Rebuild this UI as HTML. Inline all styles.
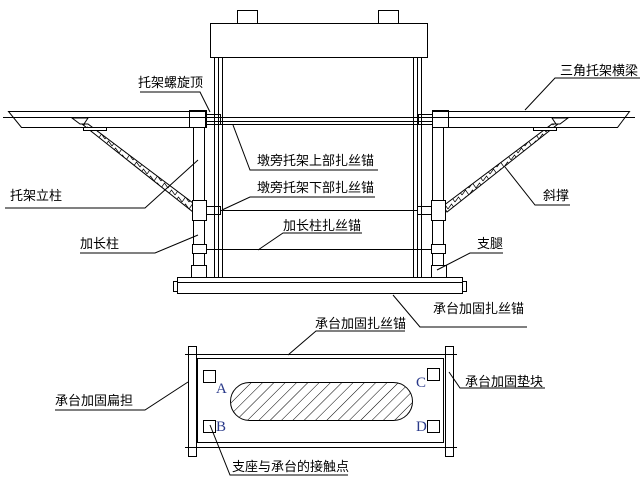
<!DOCTYPE html>
<html><head><meta charset="utf-8"><style>
html,body{margin:0;padding:0;background:#fff;}
svg{display:block;}
text{font-family:"Liberation Sans","Noto Sans CJK SC","WenQuanYi Zen Hei",sans-serif;font-size:13px;fill:#000;}
.l{font-family:"Liberation Serif",serif;font-size:15px;fill:#2a3a8a;}
</style></head><body>
<svg width="640" height="480" viewBox="0 0 640 480" xmlns="http://www.w3.org/2000/svg">
<defs>
<pattern id="h" width="8" height="8" patternUnits="userSpaceOnUse" patternTransform="rotate(45)">
<line x1="0" y1="0" x2="0" y2="8" stroke="#000" stroke-width="1"/>
</pattern>
<pattern id="z" width="7" height="7" patternUnits="userSpaceOnUse">
<path d="M0 6 L3.5 1 L7 6" fill="none" stroke="#000" stroke-width="0.7"/>
</pattern>
</defs>
<g fill="none" stroke="#000" stroke-width="1">
<rect x="237.5" y="10.5" width="20" height="13"/>
<rect x="378.5" y="10.5" width="20" height="13"/>
<rect x="210.5" y="23.5" width="217" height="34"/>
<line x1="214.5" y1="57" x2="214.5" y2="277"/>
<line x1="218.5" y1="57" x2="218.5" y2="277"/>
<line x1="222.5" y1="57" x2="222.5" y2="277"/>
<line x1="413.5" y1="57" x2="413.5" y2="277"/>
<line x1="417.5" y1="57" x2="417.5" y2="277"/>
<line x1="421.5" y1="57" x2="421.5" y2="277"/>
<line x1="3" y1="117.5" x2="635" y2="117.5"/>
<line x1="205" y1="121.5" x2="432" y2="121.5"/>
<line x1="205" y1="124.5" x2="432" y2="124.5"/>
<polygon points="8.5,111.5 205.5,111.5 205.5,127.5 21.5,127.5"/>
<rect x="189.5" y="110.5" width="17" height="17"/>
<rect x="206.5" y="114.5" width="14" height="10"/>
<polygon points="432.5,111.5 629.5,111.5 617.5,127.5 432.5,127.5"/>
<rect x="432.5" y="110.5" width="16" height="17"/>
<rect x="418.5" y="114.5" width="14" height="10"/>
<!-- braces -->
<polygon points="72,118 88,118 84,124 80,124" />
<polygon points="82,124 88,124 197,206 193,212" fill="url(#z)"/>
<polygon points="568,118 552,118 556,124 560,124"/>
<polygon points="558,124 552,124 443,206 447,212" fill="url(#z)"/>
<rect x="83.5" y="127.5" width="23" height="3" fill="#fff"/>
<rect x="533.5" y="127.5" width="23" height="3" fill="#fff"/>
<rect x="193.5" y="127.5" width="11" height="150" fill="#fff"/>
<rect x="192.5" y="200.5" width="14" height="20" fill="#fff"/>
<rect x="206.5" y="206.5" width="14" height="8"/>
<rect x="192.5" y="244.5" width="14" height="9" fill="#fff"/>
<rect x="191.5" y="265.5" width="15" height="12" fill="#fff"/>
<rect x="432.5" y="127.5" width="11" height="150" fill="#fff"/>
<rect x="431.5" y="200.5" width="14" height="20" fill="#fff"/>
<rect x="417.5" y="206.5" width="14" height="8"/>
<rect x="431.5" y="244.5" width="14" height="9" fill="#fff"/>
<rect x="431.5" y="265.5" width="15" height="12" fill="#fff"/>
<line x1="220" y1="210.5" x2="418" y2="210.5"/>
<line x1="206" y1="249.5" x2="432" y2="249.5"/>
<rect x="177.5" y="277.5" width="285" height="16"/>
<line x1="177" y1="282.5" x2="462" y2="282.5"/>
<rect x="173.5" y="281.5" width="4" height="10"/>
<rect x="462.5" y="281.5" width="4" height="10"/>
<rect x="188.5" y="346.5" width="8" height="110"/>
<rect x="445.5" y="346.5" width="8" height="110"/>
<line x1="185" y1="354.5" x2="457" y2="354.5"/>
<line x1="185" y1="447.5" x2="457" y2="447.5"/>
<rect x="197.5" y="358.5" width="246" height="84"/>
<rect x="203.5" y="370.5" width="12" height="12"/>
<rect x="203.5" y="420.5" width="12" height="12"/>
<rect x="427.5" y="368.5" width="12" height="12"/>
<rect x="427.5" y="420.5" width="12" height="12"/>
<rect x="230.5" y="382.5" width="182" height="38" rx="19" fill="url(#h)"/>
<polyline points="140,92 200,92 210,112"/>
<polyline points="5,208 145,208 198,160"/>
<polyline points="80,253 155,253 198,235"/>
<polyline points="378,170 250,170 233,125"/>
<polyline points="375,197 250,197 222,210"/>
<polyline points="362,233 283,233 258,250"/>
<polyline points="640,78 555,78 525,110"/>
<polyline points="570,205 535,205 505,167"/>
<polyline points="503,253 470,253 437,270"/>
<polyline points="527,327 420,327 393,295"/>
<polyline points="405,331 316,331 288,355"/>
<polyline points="55,410 145,410 188,382"/>
<polyline points="545,388 460,388 449,372"/>
<polyline points="348,475 230,475 210,425"/>
</g>
<text x="138" y="87">托架螺旋顶</text>
<text x="560" y="75">三角托架横梁</text>
<text x="257" y="165">墩旁托架上部扎丝锚</text>
<text x="257" y="192">墩旁托架下部扎丝锚</text>
<text x="10" y="200">托架立柱</text>
<text x="283" y="230">加长柱扎丝锚</text>
<text x="80" y="248">加长柱</text>
<text x="543" y="200">斜撑</text>
<text x="477" y="248">支腿</text>
<text x="433" y="313">承台加固扎丝锚</text>
<text x="315" y="328">承台加固扎丝锚</text>
<text x="55" y="405">承台加固扁担</text>
<text x="465" y="386">承台加固垫块</text>
<text x="232" y="471">支座与承台的接触点</text>
<text class="l" x="216" y="393">A</text>
<text class="l" x="216" y="431">B</text>
<text class="l" x="416" y="387">C</text>
<text class="l" x="416" y="431">D</text>
</svg>
</body></html>
